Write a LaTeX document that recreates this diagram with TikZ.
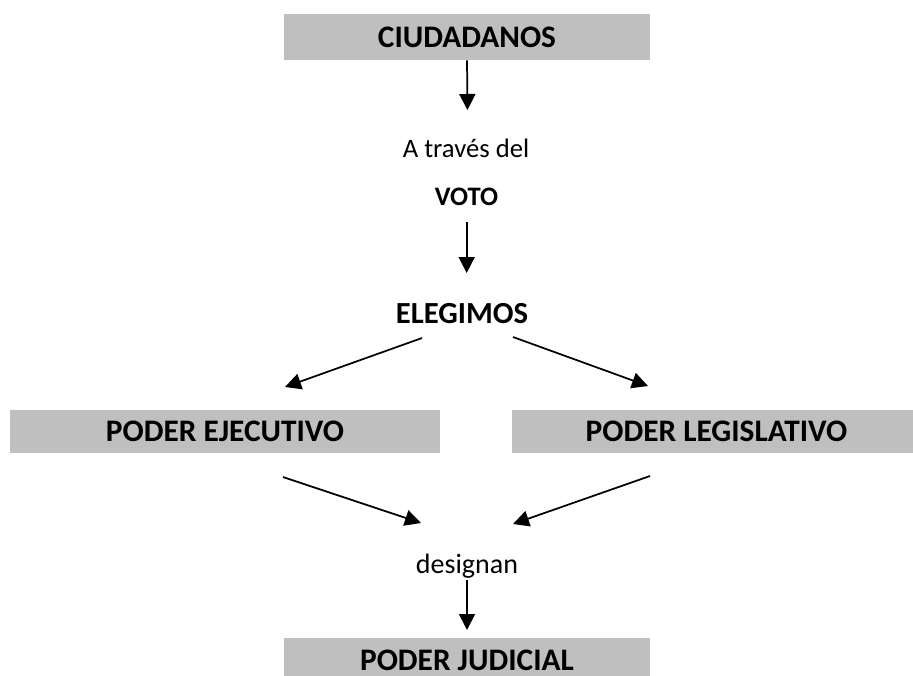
\documentclass[tikz,border=0pt]{standalone}
\usepackage{fontspec}
\setmainfont{Carlito}
\usepackage{xcolor}
\usepackage{tikz}
\usetikzlibrary{
    arrows.meta,
    positioning
}
\definecolor{boxgray}{RGB}{191,191,191}
\tikzstyle{graybox} = [
    rectangle,
    inner sep=0pt,
    minimum height=34.5pt,
    text centered,
    fill=boxgray,
    font=\fontsize{23.5}{27}\selectfont\bfseries
]
\tikzstyle{label} = [
    inner sep=0pt,
    anchor=base,
    font=\fontsize{20}{24}\selectfont
]
\tikzstyle{arrow} = [
    line width=1.3pt,
    -{Triangle[length=12pt,width=12pt]}
]

\begin{document}
\begin{tikzpicture}[x=0.75pt, y=-0.75pt]
    \useasboundingbox (0,0) rectangle (913,675);
    % boxes
    \node[graybox, minimum width=274.5pt] (ciud)  at (467,37) {CIUDADANOS};
    \node[graybox, minimum width=322.5pt, minimum height=32.25pt] (ejec)  at (225,431.5) {PODER EJECUTIVO};
    \node[graybox, minimum width=306.75pt, minimum height=32.25pt] (legis) at (716.5,431.5) {PODER LEGISLATIVO};
    \node[graybox, minimum width=274.5pt, minimum height=33pt] (judic) at (467,660) {PODER JUDICIAL};
    % texts
    \node[label] (traves) at (466,157) {A través del};
    \node[label, font=\fontsize{20}{24}\selectfont\bfseries] (voto) at (466.5,205) {VOTO};
    \node[label, font=\fontsize{23}{27}\selectfont\bfseries] (elegimos) at (462,323) {ELEGIMOS};
    \node[label, font=\fontsize{21}{25}\selectfont] (designan) at (467,573) {designan};
    % arrow ends
    \coordinate (c1) at (467.5,110);
    \coordinate (v1) at (466.7,222);
    \coordinate (v2) at (466.7,273);
    \coordinate (e1) at (422,338);
    \coordinate (e2) at (285,387);
    \coordinate (l1) at (513,337);
    \coordinate (l2) at (648,386);
    \coordinate (p1) at (283,477);
    \coordinate (p2) at (421,523);
    \coordinate (q1) at (650,476);
    \coordinate (q2) at (513,524);
    \coordinate (d1) at (467,580);
    \coordinate (d2) at (467,630);
    % arrows
    \draw[arrow] (ciud.south) -- (c1);
    \draw[arrow] (v1) -- (v2);
    \draw[arrow] (e1) -- (e2);
    \draw[arrow] (l1) -- (l2);
    \draw[arrow] (p1) -- (p2);
    \draw[arrow] (q1) -- (q2);
    \draw[arrow] (d1) -- (d2);
\end{tikzpicture}
\end{document}
